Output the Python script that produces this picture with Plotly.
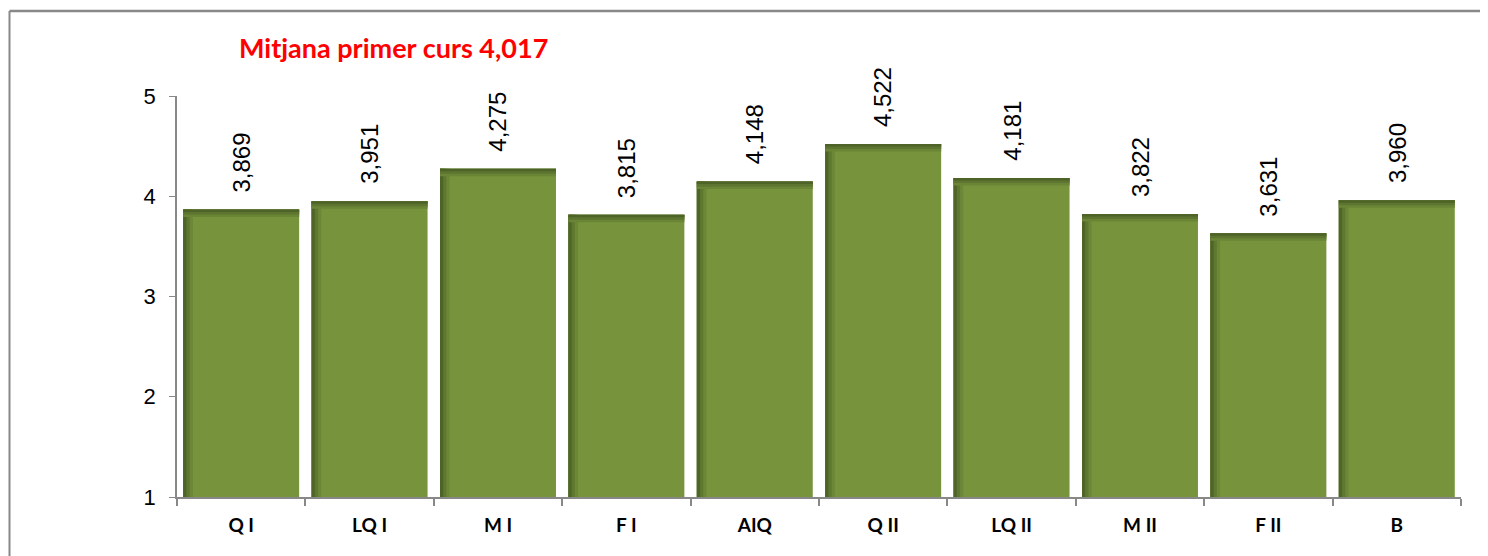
import plotly.graph_objects as go

categories = ["Q I", "LQ I", "M I", "F I", "AIQ", "Q II", "LQ II", "M II", "F II", "B"]
values = [3.869, 3.951, 4.275, 3.815, 4.148, 4.522, 4.181, 3.822, 3.631, 3.960]
labels = ["3,869", "3,951", "4,275", "3,815", "4,148", "4,522", "4,181", "3,822", "3,631", "3,960"]
title_text = "Mitjana primer curs 4,017"

BAR_W = 0.903
n = len(categories)
fig = go.Figure()
fig.add_trace(go.Bar(
    x=categories, y=[v - 1 for v in values], base=1,
    width=[BAR_W] * n,
    marker=dict(color="#77933C", line=dict(width=0)),
    hoverinfo="skip", showlegend=False,
))
# darker left edge (stepped gradient, bevel look)
left_steps = ["#6c8737", "#5f7830", "#4f6428"]
for i, col in enumerate(left_steps):
    w = 0.075 - i * 0.025
    fig.add_trace(go.Bar(
        x=categories, y=[v - 1 for v in values], base=1,
        width=[w] * n, offset=[-BAR_W / 2] * n,
        marker=dict(color=col, line=dict(width=0)),
        hoverinfo="skip", showlegend=False,
    ))
# darker top edge (stepped gradient)
top_steps = ["#6a8536", "#5d7530", "#4e6327"]
for i, col in enumerate(top_steps):
    h = 0.075 - i * 0.025
    fig.add_trace(go.Bar(
        x=categories, y=[h] * n, base=[v - h for v in values],
        width=[BAR_W] * n,
        marker=dict(color=col, line=dict(width=0)),
        hoverinfo="skip", showlegend=False,
    ))

for c, v, t in zip(categories, values, labels):
    fig.add_annotation(
        x=c, y=v, text=t, textangle=-90, showarrow=False,
        xanchor="center", yanchor="bottom", yshift=15,
        font=dict(family="Liberation Sans, Arial", size=24, color="#000000"),
    )

fig.add_annotation(
    xref="paper", yref="paper", x=(237 - 177) / 1284, y=1 + (96 - 48) / 401,
    xanchor="left", yanchor="middle", text="<b>" + title_text + "</b>", showarrow=False,
    font=dict(family="Lato, Liberation Sans", size=27, color="#FF0000"),
)

# outer chart-area border: top and left edges only visible
bx0 = (9.5 - 177) / 1284
by1 = 1 + (96 - 11) / 401
fig.add_shape(type="line", xref="paper", yref="paper", x0=bx0, x1=1.05, y0=by1, y1=by1,
              line=dict(color="#888888", width=2.5), layer="below")
fig.add_shape(type="line", xref="paper", yref="paper", x0=bx0, x1=bx0, y0=-0.2, y1=by1,
              line=dict(color="#888888", width=2), layer="below")

fig.update_layout(
    width=1480, height=548,
    margin=dict(l=169, r=27, t=88, b=59),
    paper_bgcolor="white", plot_bgcolor="white",
    barmode="overlay", bargap=0.097,
    showlegend=False,
)
fig.update_xaxes(
    showline=True, linecolor="#888888", linewidth=2,
    ticks="outside", tickson="boundaries", ticklen=7, tickcolor="#888888", tickwidth=1.5,
    showgrid=False, ticklabelstandoff=10,
    tickfont=dict(family="Lato, Liberation Sans", size=19, color="#000000"),
    tickprefix="<b>", ticksuffix="</b>",
)
fig.update_yaxes(
    range=[1, 5], dtick=1, showline=True, linecolor="#888888", linewidth=1.5,
    ticks="outside", ticklen=6, tickcolor="#888888", showgrid=False, zeroline=False,
    ticklabelstandoff=9,
    tickfont=dict(family="Liberation Sans, Arial", size=22, color="#000000"),
)

fig.write_html("out.html")
